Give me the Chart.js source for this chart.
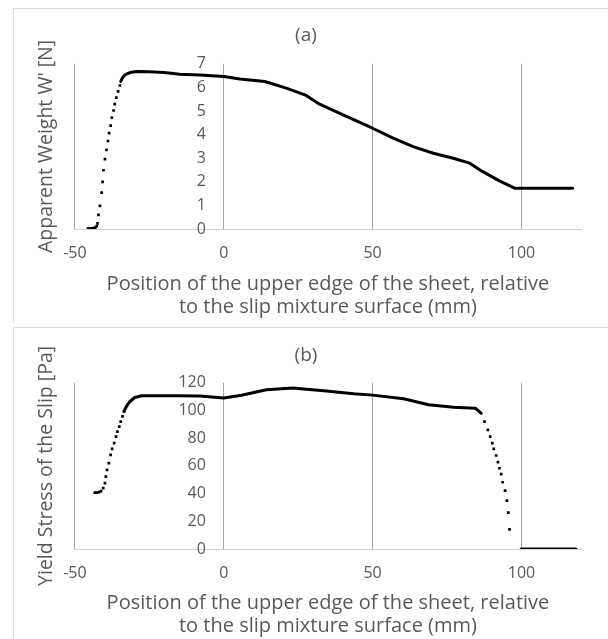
<!DOCTYPE html>
<html lang="en">
<head>
  <meta charset="UTF-8">
  <title>Apparent weight and yield stress vs. sheet position</title>
  <script src="https://cdn.jsdelivr.net/npm/chart.js"></script>
  <style>
    body {
      margin: 0;
      background: #fff;
      width: 608px;
      height: 639px;
      overflow: hidden;
      position: relative;
    }

    .panel {
      position: absolute;
      left: 13px;
      width: 594px;
      border-top: 1px solid #dcdcdc;
      border-left: 1px solid #dcdcdc;
    }

    #panelA { top: 8px; height: 314px; }
    #panelB { top: 327px; height: 311px; }

    canvas { display: block; }
  </style>
</head>

<body>
  <div class="panel" id="panelA"><canvas id="chartA" width="594" height="314"></canvas></div>
  <div class="panel" id="panelB"><canvas id="chartB" width="594" height="311"></canvas></div>

  <script>
    // tick values
    const xTicks = [-50, 0, 50, 100];
    const aTicks = [0, 1, 2, 3, 4, 5, 6, 7];
    const bTicks = [0, 20, 40, 60, 80, 100, 120];

    // (a) apparent weight - sparse dots while the sheet enters, then a dense curve
    const aDotX = [-45.6, -45.0, -44.4, -43.8, -43.2, -42.7, -42.4, -42.1, -41.6, -41.0, -40.7, -40.4, -39.9, -39.4, -38.9, -38.5, -38.0, -37.6, -37.0, -36.6, -36.1, -35.5, -34.9];
    const aDotY = [0.02, 0.02, 0.03, 0.04, 0.06, 0.12, 0.24, 0.6, 0.98, 1.54, 2.0, 2.49, 2.96, 3.35, 3.73, 4.06, 4.38, 4.72, 5.02, 5.29, 5.57, 5.83, 6.08];
    const aLineX = [-34.6, -34.1, -33.2, -31.5, -29.3, -25, -20, -14.8, -8, 0, 5.4, 13.8, 21, 27.7, 32.2, 41.2, 50, 56.9, 63.6, 70.4, 77.1, 82.6, 87.0, 92.6, 97.7, 99.9, 117.2];
    const aLineY = [6.25, 6.39, 6.53, 6.63, 6.67, 6.66, 6.63, 6.56, 6.53, 6.46, 6.36, 6.25, 5.97, 5.66, 5.29, 4.77, 4.27, 3.85, 3.49, 3.21, 3.00, 2.79, 2.43, 2.04, 1.73, 1.73, 1.73];

    // (b) yield stress of the slip
    const bDotX = [-43.3, -42.6, -41.9, -41.2, -40.5, -39.9, -39.6, -39.2, -38.6, -38.0, -37.5, -36.8, -36.2, -35.7, -35.1, -34.6, -34.0, -33.5];
    const bDotY = [40.7, 40.7, 41.0, 41.8, 43.9, 47.5, 52.3, 57.1, 62.0, 68.0, 72.3, 76.4, 81.2, 84.8, 88.4, 92.0, 95.7, 99.3];
    const bLineX = [-33.5, -32.7, -31.5, -29.9, -27.6, -15.9, -8, 0, 6, 14.3, 23.3, 26.8, 33.6, 43.6, 50, 60.4, 68.8, 77.2, 84.5, 86.5];
    const bLineY = [99.3, 102.9, 106.5, 109.4, 110.6, 110.6, 110.4, 109, 111, 115, 116.2, 115.5, 114.2, 112.1, 111.1, 108.5, 104.1, 102.4, 101.7, 98];
    const bTailX = [87.6, 88.7, 89.5, 90.2, 90.7, 91.5, 92.1, 92.6, 93.2, 93.7, 94.5, 95.1, 95.6, 96.0];
    const bTailY = [92, 86, 81.2, 76.4, 72.3, 67.5, 62.7, 58.3, 54, 48.2, 42.2, 34.9, 26.2, 14.2];
    const bZeroX = [99.9, 118.3];
    const bZeroY = [0, 0];

    const xTitle = ['Position of the upper edge of the sheet, relative', 'to the slip mixture surface (mm)'];
    const textColor = '#595959';
    // the vertical axis labels sit just left of x = 0
    const yLabelAt = -6;

    Chart.defaults.font.family = "'Open Sans', sans-serif";

    function pts(xs, ys) {
      return xs.map((x, i) => ({ x: x, y: ys[i] }));
    }

    function dots(data) {
      return {
        data: data,
        showLine: false,
        pointStyle: 'rect',
        pointRadius: 1.9,
        pointBorderWidth: 0,
        pointBackgroundColor: '#000'
      };
    }

    function curve(data) {
      return {
        data: data,
        showLine: true,
        pointRadius: 0,
        borderColor: '#000',
        borderWidth: 3,
        borderJoinStyle: 'round',
        borderCapStyle: 'round',
        tension: 0
      };
    }

    function makePanel(canvasId, title, yTitle, yMax, yTicks, datasets, opts) {
      const ctx = document.getElementById(canvasId).getContext('2d');
      return new Chart(ctx, {
        type: 'scatter',
        data: { datasets: datasets },
        options: {
          responsive: false,
          animation: false,
          layout: { padding: { left: 17, right: 27, top: 0, bottom: opts.padBottom } },
          plugins: {
            legend: { display: false },
            tooltip: { enabled: false },
            title: {
              display: true,
              text: title,
              color: textColor,
              font: { size: 19, weight: 'normal', lineHeight: 1.2 },
              padding: { top: opts.titleTop, bottom: opts.titleBottom }
            }
          },
          scales: {
            x: {
              type: 'linear',
              min: -50,
              max: 120,
              afterBuildTicks: s => { s.ticks = xTicks.map(v => ({ value: v })); },
              afterFit: s => { s.height = opts.xHeight; },
              grid: { color: '#a6a6a6', drawTicks: false },
              border: { color: '#d0d0d0' },
              ticks: { color: textColor, font: { size: 16 }, padding: 15, maxRotation: 0 },
              title: {
                display: true,
                text: xTitle,
                color: textColor,
                font: { size: 20, lineHeight: 1.15 },
                padding: { top: 8, bottom: opts.xTitleBottom }
              }
            },
            y: {
              type: 'linear',
              min: 0,
              max: yMax,
              position: { x: yLabelAt },
              afterFit: s => { s.width = 0; },
              afterBuildTicks: s => { s.ticks = yTicks.map(v => ({ value: v })); },
              grid: { display: false, drawTicks: false },
              border: { display: false },
              ticks: { color: textColor, font: { size: 16 }, autoSkip: false }
            },
            yTitle: {
              type: 'linear',
              position: 'left',
              grid: { display: false, drawTicks: false },
              border: { display: false },
              ticks: { display: false },
              title: {
                display: true,
                text: yTitle,
                color: textColor,
                font: { size: 19.5, lineHeight: 1.2 },
                padding: { top: 4, bottom: 16.5 }
              }
            }
          }
        }
      });
    }

    makePanel('chartA', '(a)', "Apparent Weight W' [N]", 7, aTicks, [
      dots(pts(aDotX, aDotY)),
      curve(pts(aLineX, aLineY))
    ], { padBottom: 2.5, xHeight: 91.5, xTitleBottom: 2, titleTop: 15, titleBottom: 17 });

    makePanel('chartB', '(b)', 'Yield Stress of the Slip [Pa]', 120, bTicks, [
      dots(pts(bDotX, bDotY).concat(pts(bTailX, bTailY))),
      curve(pts(bLineX, bLineY)),
      curve(pts(bZeroX, bZeroY))
    ], { padBottom: 0, xHeight: 90, xTitleBottom: 1, titleTop: 16, titleBottom: 16 });
  </script>
</body>

</html>
